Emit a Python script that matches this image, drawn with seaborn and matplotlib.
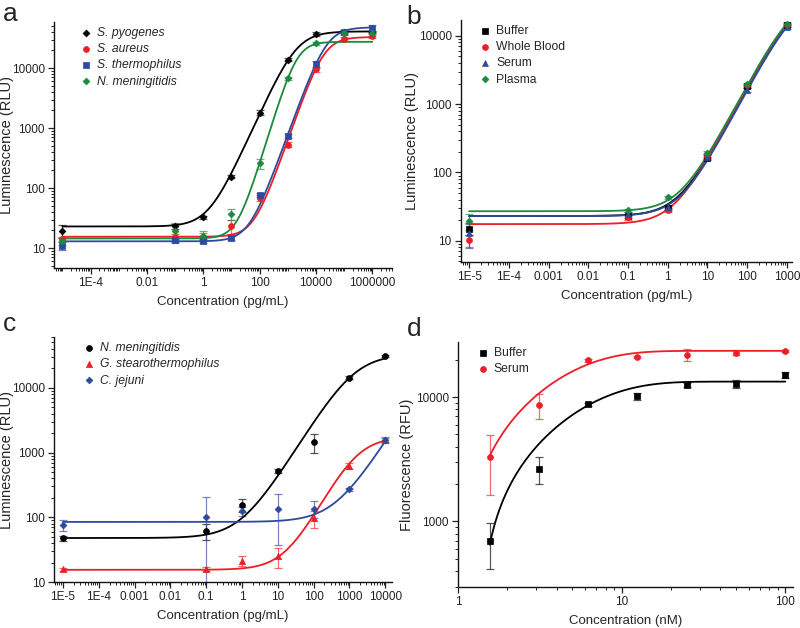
import numpy as np
import pandas as pd
import seaborn as sns
import matplotlib
matplotlib.use('Agg')
import matplotlib.pyplot as plt
from matplotlib.ticker import FixedLocator, LogLocator, NullFormatter

# ---- panel a ----
a_conc = [1e-5, 0.1, 1, 10, 100, 1000, 1e4, 1e5, 1e6]
a_names = ['S. pyogenes', 'S. aureus', 'S. thermophilus', 'N. meningitidis']
a_pyog = [19.5, 23, 33, 156, 1825, 13800, 36900, 40800, 40000]
a_aur = [14, 15.6, 15.6, 23, 68, 528, 9600, 30400, 34600]
a_therm = [11, 13.5, 13, 14.7, 77, 745, 11650, 40800, 46400]
a_menin = [13, 19, 16, 37, 261, 6800, 26100, 38300, 38000]
a_pyog_err = [5, 2, 2, 10, 150, 800, 2500, 2000, 2000]
a_aur_err = [1.5, 1.5, 2, 6, 8, 50, 800, 2500, 2500]
a_therm_err = [1.8, 1, 1, 1, 6, 60, 1500, 3000, 6000]
a_menin_err = [1.5, 7, 3, 8, 50, 400, 1500, 3000, 3000]
a_bottom = [23, 15.5, 13, 14.5]
a_top = [41000, 33000, 48000, 27500]
a_ec50 = [2000, 18800, 23800, 2070]
a_hill = [1.05, 1.35, 1.3, 1.55]

# ---- panel b ----
b_conc = [1e-5, 0.1, 1, 10, 100, 1000]
b_names = ['Buffer', 'Whole Blood', 'Serum', 'Plasma']
b_buffer = [15, 23, 30, 160, 1830, 14300]
b_blood = [10.2, 22, 28, 173, 1900, 14500]
b_serum = [12.8, 24.5, 31.5, 169, 1600, 13500]
b_plasma = [19.4, 28, 43, 194, 1940, 15100]
b_buffer_err = [3, 1.5, 2, 10, 100, 800]
b_blood_err = [2, 2, 2, 10, 100, 800]
b_serum_err = [5, 1.5, 2, 10, 100, 800]
b_plasma_err = [5, 1.5, 2, 10, 100, 800]
b_bottom = [23, 17.5, 23, 27]
b_top = [40000, 40000, 40000, 40000]
b_ec50 = [1706, 1673, 1850, 1580]
b_hill = [1.1, 1.1, 1.1, 1.1]

# ---- panel c ----
c_conc = [1e-5, 0.1, 1, 10, 100, 1000, 1e4]
c_names = ['N. meningitidis', 'G. stearothermophilus', 'C. jejuni']
c_menin = [47.5, 61, 157, 522, 1450, 14250, 30700]
c_stearo = [15.7, 15.9, 21.5, 25, 97.6, 623, 1565]
c_jejuni = [76, 100, 124, 134, 137, 273, 1565]
c_menin_err = [4, 17, 35, 30, 470, 800, 1000]
c_stearo_err = [1, 1, 4, 8.5, 28, 60, 150]
c_jejuni_err = [15, 108, 20, 97, 39, 15, 100]
c_bottom = [48, 15.5, 85]
c_top = [33000, 1750, 1e5]
c_ec50 = [1366, 1590, 1.28e6]
c_hill = [0.9, 1.04, 0.876]

# ---- panel d ----
d_conc = [1.5625, 3.125, 6.25, 12.5, 25, 50, 100]
d_names = ['Buffer', 'Serum']
d_buffer = [695, 2640, 8730, 10100, 12500, 12800, 15100]
d_serum = [3270, 8600, 19700, 21000, 21900, 22700, 23500]
d_buffer_err = [277, 630, 300, 600, 400, 950, 900]
d_serum_err = [1640, 2000, 500, 500, 2500, 1000, 400]
d_top = [13300, 23500]
d_rate = [0.211, 0.29]
d_x0 = [1.325, 1.03]

RED = '#ec1e26'
BLUE = '#2e4a9e'
GREEN = '#1b8a3e'
BLACK = '#000000'

sns.set_theme(style='ticks')
plt.rcParams['font.family'] = ['Liberation Sans', 'DejaVu Sans']
plt.rcParams['xtick.direction'] = 'out'
plt.rcParams['ytick.direction'] = 'out'


def hill(x, bottom, top, ec50, h):
    return bottom + (top - bottom) / (1 + (ec50 / x) ** h)


def assoc(x, top, k, x0):
    return top * (1 - np.exp(-k * (x - x0)))


def draw_series(ax, x, y, err, color, marker, size, label):
    ax.errorbar(x, y, yerr=err, fmt='none', ecolor=color, alpha=0.65,
                elinewidth=0.9, capsize=3, capthick=0.9, zorder=2)
    df = pd.DataFrame({'x': x, 'y': y})
    sns.scatterplot(data=df, x='x', y='y', ax=ax, color=color, marker=marker,
                    s=size, edgecolor=color, linewidth=0.5, label=label, zorder=4)


def draw_curve(ax, xs, ys, color):
    df = pd.DataFrame({'x': xs, 'y': ys})
    sns.lineplot(data=df, x='x', y='y', ax=ax, color=color, lw=1.3, zorder=3)


def style_axes(ax, xlim, ylim, xmajor, xlabels, ymajor, ylabels, xlabel, ylabel, ylab_x):
    ax.set_xscale('log')
    ax.set_yscale('log')
    ax.set_xlim(*xlim)
    ax.set_ylim(*ylim)
    ax.xaxis.set_major_locator(FixedLocator(xmajor))
    ax.set_xticklabels(xlabels)
    ax.yaxis.set_major_locator(FixedLocator(ymajor))
    ax.set_yticklabels(ylabels)
    ax.xaxis.set_minor_locator(LogLocator(base=10, subs=np.arange(1, 10), numticks=200))
    ax.yaxis.set_minor_locator(LogLocator(base=10, subs=np.arange(2, 10), numticks=200))
    ax.xaxis.set_minor_formatter(NullFormatter())
    ax.yaxis.set_minor_formatter(NullFormatter())
    ax.tick_params(which='major', length=4, width=0.9, labelsize=8.5, colors='#222222', pad=2.5)
    ax.tick_params(which='minor', length=2.2, width=0.7)
    for s in ['top', 'right']:
        ax.spines[s].set_visible(False)
    for s in ['left', 'bottom']:
        ax.spines[s].set_linewidth(1.0)
        ax.spines[s].set_color('#111111')
    ax.set_xlabel(xlabel, fontsize=9.5, labelpad=5)
    ax.set_ylabel(ylabel, fontsize=10.5)
    ax.yaxis.set_label_coords(ylab_x, 0.5)


def add_legend(ax, anchor, italic):
    prop = {'size': 8.7}
    if italic:
        prop['style'] = 'italic'
    ax.legend(loc='upper left', bbox_to_anchor=anchor, frameon=False, prop=prop,
              handlelength=0.8, handletextpad=0.5, labelspacing=0.35,
              borderaxespad=0, markerscale=1.0)


fig = plt.figure(figsize=(8.0, 6.28), dpi=100)
ax_a = fig.add_axes([0.0675, 0.573, 0.4225, 0.392])
ax_b = fig.add_axes([0.576, 0.583, 0.414, 0.385])
ax_c = fig.add_axes([0.0675, 0.073, 0.4225, 0.39])
ax_d = fig.add_axes([0.5725, 0.065, 0.4185, 0.39])

# panel a
xs = np.logspace(-5, 6, 300)
a_y = [a_pyog, a_aur, a_therm, a_menin]
a_e = [a_pyog_err, a_aur_err, a_therm_err, a_menin_err]
a_col = [BLACK, RED, BLUE, GREEN]
a_mk = ['D', 'o', 's', 'D']
a_sz = [12, 18, 14, 12]
for i in range(4):
    draw_curve(ax_a, xs, hill(xs, a_bottom[i], a_top[i], a_ec50[i], a_hill[i]), a_col[i])
for i in range(4):
    draw_series(ax_a, a_conc, a_y[i], a_e[i], a_col[i], a_mk[i], a_sz[i], a_names[i])
style_axes(ax_a, (10 ** -5.3, 10 ** 6.7), (10 ** 0.667, 10 ** 4.77),
           [1e-4, 1e-2, 1, 100, 1e4, 1e6], ['1E-4', '0.01', '1', '100', '10000', '1000000'],
           [10, 100, 1000, 10000], ['10', '100', '1000', '10000'],
           'Concentration (pg/mL)', 'Luminescence (RLU)', -0.117)
add_legend(ax_a, (0.065, 1.0), True)

# panel b
xs = np.logspace(-5, 3, 300)
b_y = [b_buffer, b_blood, b_serum, b_plasma]
b_e = [b_buffer_err, b_blood_err, b_serum_err, b_plasma_err]
b_col = [BLACK, RED, BLUE, GREEN]
b_mk = ['s', 'o', '^', 'D']
b_sz = [14, 18, 18, 12]
for i in range(4):
    draw_curve(ax_b, xs, hill(xs, b_bottom[i], b_top[i], b_ec50[i], b_hill[i]), b_col[i])
for i in range(4):
    draw_series(ax_b, b_conc, b_y[i], b_e[i], b_col[i], b_mk[i], b_sz[i], b_names[i])
style_axes(ax_b, (10 ** -5.21, 10 ** 3.13), (10 ** 0.69, 10 ** 4.23),
           [1e-5, 1e-4, 1e-3, 1e-2, 0.1, 1, 10, 100, 1000],
           ['1E-5', '1E-4', '0.001', '0.01', '0.1', '1', '10', '100', '1000'],
           [10, 100, 1000, 10000], ['10', '100', '1000', '10000'],
           'Concentration (pg/mL)', 'Luminescence (RLU)', -0.125)
add_legend(ax_b, (0.045, 1.0), False)

# panel c
xs = np.logspace(-5, 4, 300)
c_y = [c_menin, c_stearo, c_jejuni]
c_e = [c_menin_err, c_stearo_err, c_jejuni_err]
c_col = [BLACK, RED, BLUE]
c_mk = ['o', '^', 'D']
c_sz = [18, 20, 12]
for i in range(3):
    draw_curve(ax_c, xs, hill(xs, c_bottom[i], c_top[i], c_ec50[i], c_hill[i]), c_col[i])
for i in range(3):
    draw_series(ax_c, c_conc, c_y[i], c_e[i], c_col[i], c_mk[i], c_sz[i], c_names[i])
style_axes(ax_c, (10 ** -5.25, 10 ** 4.19), (10, 10 ** 4.78),
           [1e-5, 1e-4, 1e-3, 1e-2, 0.1, 1, 10, 100, 1000, 1e4],
           ['1E-5', '1E-4', '0.001', '0.01', '0.1', '1', '10', '100', '1000', '10000'],
           [10, 100, 1000, 10000], ['10', '100', '1000', '10000'],
           'Concentration (pg/mL)', 'Luminescence (RLU)', -0.117)
add_legend(ax_c, (0.075, 1.0), True)

# panel d
xs = np.logspace(np.log10(1.5625), 2, 300)
d_y = [d_buffer, d_serum]
d_e = [d_buffer_err, d_serum_err]
d_col = [BLACK, RED]
d_mk = ['s', 'o']
d_sz = [14, 18]
for i in range(2):
    draw_curve(ax_d, xs, assoc(xs, d_top[i], d_rate[i], d_x0[i]), d_col[i])
for i in range(2):
    draw_series(ax_d, d_conc, d_y[i], d_e[i], d_col[i], d_mk[i], d_sz[i], d_names[i])
style_axes(ax_d, (1, 10 ** 2.046), (10 ** 2.472, 10 ** 4.44),
           [1, 10, 100], ['1', '10', '100'],
           [1000, 10000], ['1000', '10000'],
           'Concentration (nM)', 'Fluorescence (RFU)', -0.13)
ax_d.xaxis.set_minor_locator(LogLocator(base=10, subs=np.arange(2, 10), numticks=200))
add_legend(ax_d, (0.045, 1.0), False)

for txt, x, y in [('a', 0.004, 0.966), ('b', 0.508, 0.962), ('c', 0.004, 0.473), ('d', 0.508, 0.465)]:
    fig.text(x, y, txt, fontsize=19, va='baseline', ha='left')

fig.savefig('out.png', dpi=100)
